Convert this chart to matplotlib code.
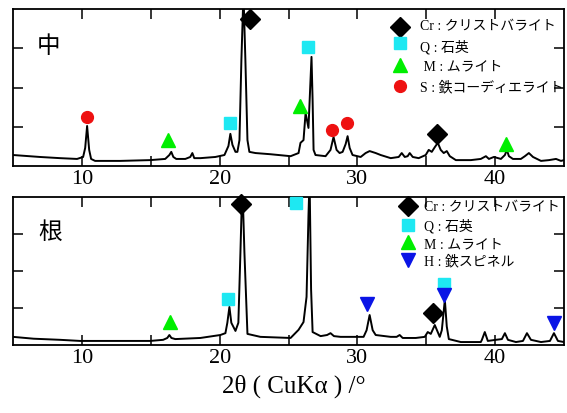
import matplotlib
matplotlib.use("Agg")
import matplotlib.pyplot as plt
from matplotlib.ticker import FixedLocator, NullFormatter

MIXED = ["Liberation Serif", "Noto Sans CJK JP"]

# --- 中 (middle) pattern: 2theta / intensity (a.u.)
mid_2theta = [5.00, 6.96, 8.42, 9.65, 10.09, 10.24, 10.38, 10.53, 10.67, 10.96,
              12.78, 14.96, 16.05, 16.35, 16.49, 16.64, 16.85, 17.51, 17.87, 18.02,
              18.16, 18.60, 19.69, 20.35, 20.64, 20.78, 20.93, 21.15, 21.29, 21.44,
              21.58, 21.73, 21.87, 22.02, 22.16, 22.60, 23.69, 25.15, 25.73, 25.87,
              26.09, 26.24, 26.45, 26.67, 26.75, 26.82, 26.96, 27.69, 28.05, 28.27,
              28.49, 28.71, 28.93, 29.15, 29.29, 29.44, 29.65, 30.24, 30.60, 30.89,
              31.33, 31.69, 32.42, 33.00, 33.22, 33.44, 33.65, 33.80, 34.02, 34.45,
              34.96, 35.18, 35.40, 35.62, 35.84, 36.05, 36.27, 36.49, 36.71, 37.15,
              38.24, 38.96, 39.33, 39.55, 39.91, 40.42, 40.71, 40.85, 41.00, 41.29,
              41.87, 42.16, 42.45, 42.75, 43.33, 43.91, 44.42, 44.78, 45.00]
mid_int = [0.28, 0.23, 0.20, 0.18, 0.23, 0.46, 1.02, 0.41, 0.18, 0.13,
           0.13, 0.15, 0.18, 0.28, 0.36, 0.23, 0.18, 0.18, 0.23, 0.33,
           0.20, 0.20, 0.23, 0.28, 0.51, 0.82, 0.54, 0.36, 0.36, 0.66,
           2.70, 4.40, 2.70, 0.66, 0.36, 0.33, 0.30, 0.25, 0.33, 0.59,
           0.66, 1.35, 0.97, 2.78, 1.68, 0.41, 0.28, 0.25, 0.41, 0.74,
           0.41, 0.33, 0.36, 0.56, 0.76, 0.46, 0.28, 0.23, 0.33, 0.38,
           0.33, 0.28, 0.20, 0.23, 0.33, 0.23, 0.25, 0.33, 0.23, 0.20,
           0.28, 0.41, 0.36, 0.48, 0.59, 0.41, 0.33, 0.38, 0.25, 0.15,
           0.15, 0.18, 0.25, 0.18, 0.23, 0.18, 0.28, 0.41, 0.25, 0.18,
           0.18, 0.25, 0.33, 0.23, 0.13, 0.15, 0.18, 0.13, 0.15]

# --- 根 (root) pattern
root_2theta = [5.00, 6.50, 8.42, 9.87, 12.00, 14.96, 15.90, 16.20, 16.35, 16.50,
               16.78, 18.60, 20.05, 20.42, 20.56, 20.71, 20.85, 21.15, 21.36, 21.51,
               21.65, 21.80, 22.02, 22.96, 25.15, 25.73, 26.09, 26.31, 26.45, 26.53,
               26.64, 26.75, 27.33, 27.80, 28.05, 28.30, 28.78, 30.45, 30.67, 30.89,
               31.11, 31.33, 32.42, 32.85, 33.07, 33.29, 34.24, 34.89, 35.11, 35.33,
               35.62, 35.98, 36.13, 36.35, 36.49, 36.64, 37.51, 38.96, 39.04, 39.25,
               39.47, 40.05, 40.49, 40.71, 40.93, 41.51, 42.02, 42.31, 42.60, 43.33,
               43.98, 44.27, 44.56, 45.00]
root_int = [0.22, 0.17, 0.14, 0.11, 0.11, 0.11, 0.14, 0.19, 0.27, 0.19,
            0.16, 0.19, 0.27, 0.32, 0.60, 1.03, 0.60, 0.38, 0.60, 2.50,
            4.40, 2.50, 0.30, 0.22, 0.19, 0.41, 0.62, 1.30, 3.50, 4.50,
            1.50, 0.35, 0.24, 0.27, 0.32, 0.24, 0.22, 0.22, 0.40, 0.81,
            0.40, 0.27, 0.22, 0.22, 0.27, 0.19, 0.19, 0.22, 0.35, 0.30,
            0.54, 0.22, 0.40, 1.22, 0.50, 0.16, 0.08, 0.08, 0.14, 0.35,
            0.11, 0.14, 0.16, 0.32, 0.14, 0.08, 0.11, 0.32, 0.14, 0.08,
            0.11, 0.32, 0.11, 0.08]

# --- phase markers (2theta, height)
mid_cr = ([22.24, 35.76], [3.75, 0.82])
mid_q = ([20.78, 26.38], [1.10, 3.03])
mid_m = ([16.27, 25.87, 40.78], [0.66, 1.53, 0.56])
mid_s = ([10.38, 28.13, 29.22], [1.25, 0.92, 1.10])

root_cr = ([21.58, 35.47], [3.81, 0.86])
root_q = ([20.64, 25.51, 36.27], [1.24, 3.84, 1.65])
root_m = ([16.42], [0.62])
root_h = ([30.67, 36.27, 44.27], [1.11, 1.35, 0.59])

mid_legend = ["Cr : クリストバライト", "Q : 石英", " M : ムライト", "S : 鉄コーディエライト"]
root_legend = ["Cr : クリストバライト", "Q : 石英", "M : ムライト", "H : 鉄スピネル"]

BLACK = "black"
CYAN = "#1ee8f2"
GREEN = "#00ee00"
RED = "#ee1111"
BLUE = "#0a14e6"

styles = {
    "cr": dict(marker="D", ms=10, color=BLACK),
    "q": dict(marker="s", ms=8, color=CYAN),
    "m": dict(marker="^", ms=10, color=GREEN),
    "s": dict(marker="o", ms=8.5, color=RED),
    "h": dict(marker="v", ms=10, color=BLUE),
}


def setup_axes(ax):
    ax.set_xlim(5, 45)
    ax.set_ylim(0, 4)
    ax.xaxis.set_major_locator(FixedLocator([10, 20, 30, 40]))
    ax.xaxis.set_minor_locator(FixedLocator([15, 25, 35]))
    ax.xaxis.set_minor_formatter(NullFormatter())
    ax.yaxis.set_major_locator(FixedLocator([1, 2, 3]))
    ax.set_yticklabels([])
    ax.tick_params(axis="both", which="both", direction="in", top=True, right=True,
                   length=7, width=1.1, pad=3)
    ax.tick_params(axis="x", labelsize=16)
    for lab in ax.get_xticklabels():
        lab.set_family("Liberation Serif")
    for sp in ax.spines.values():
        sp.set_linewidth(1.3)


def draw_markers(ax, items):
    for key, (xs, ys) in items:
        st = styles[key]
        ax.plot(xs, ys, linestyle="none", marker=st["marker"], ms=st["ms"],
                color=st["color"], mec=st["color"], clip_on=False, zorder=4)


def draw_legend(ax, keys, labels, mx, tx, marker_y, text_y):
    for key, lab, my, ty in zip(keys, labels, marker_y, text_y):
        st = styles[key]
        ax.plot([mx], [my], transform=ax.transAxes, linestyle="none",
                marker=st["marker"], ms=st["ms"], color=st["color"], clip_on=False)
        ax.text(tx, ty, lab, transform=ax.transAxes, fontsize=10, va="center",
                ha="left", family=MIXED)


fig = plt.figure(figsize=(5.67, 4.13), dpi=100)
ax1 = fig.add_axes([13 / 567, 1 - 166 / 413, 551 / 567, 157 / 413])
ax2 = fig.add_axes([13 / 567, 1 - 345 / 413, 551 / 567, 148 / 413])

# top panel: 中
ax1.plot(mid_2theta, mid_int, color="black", lw=1.4)
setup_axes(ax1)
draw_markers(ax1, [("s", mid_s), ("m", mid_m), ("q", mid_q), ("cr", mid_cr)])
ax1.text(0.064, 0.758, "中", transform=ax1.transAxes, fontsize=17,
         family="Noto Sans CJK JP", ha="center", va="center")
draw_legend(ax1, ["cr", "q", "m", "s"], mid_legend, 0.702, 0.739,
            [0.885, 0.783, 0.643, 0.510], [0.885, 0.758, 0.631, 0.497])

# bottom panel: 根
ax2.plot(root_2theta, root_int, color="black", lw=1.4)
setup_axes(ax2)
draw_markers(ax2, [("m", root_m), ("q", root_q), ("h", root_h), ("cr", root_cr)])
ax2.text(0.067, 0.764, "根", transform=ax2.transAxes, fontsize=17,
         family="Noto Sans CJK JP", ha="center", va="center")
draw_legend(ax2, ["cr", "q", "m", "h"], root_legend, 0.717, 0.746,
            [0.939, 0.811, 0.696, 0.574], [0.926, 0.804, 0.676, 0.561])

fig.text(0.518, 1 - 386 / 413, "2θ ( CuKα ) /°", fontsize=18, family=MIXED,
         ha="center", va="center")

fig.savefig("out.png", dpi=100)
